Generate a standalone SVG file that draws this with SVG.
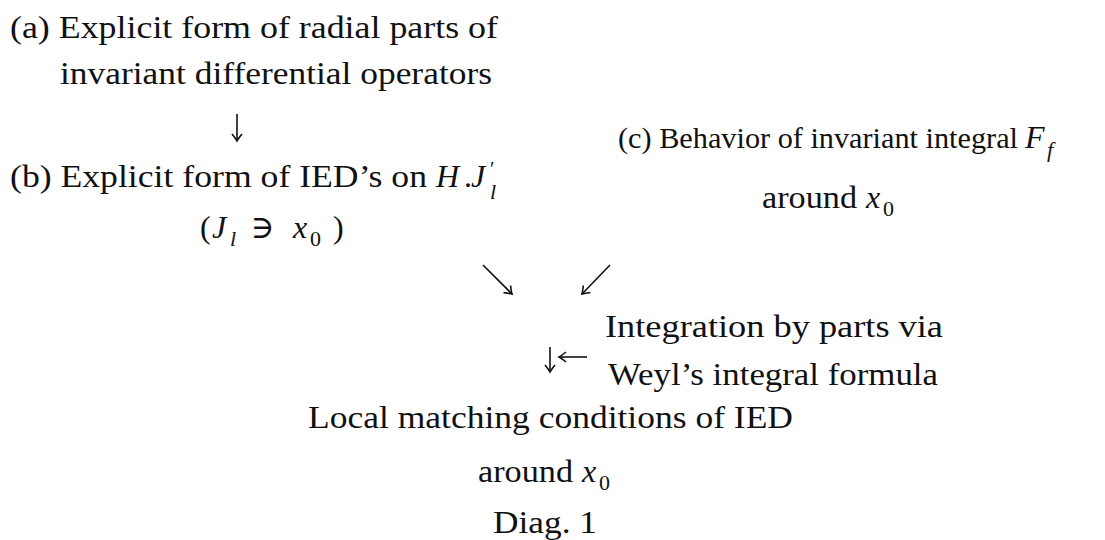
<svg xmlns="http://www.w3.org/2000/svg" width="1105" height="540" viewBox="0 0 1105 540">
<defs>
<style>
text{font-family:"Liberation Serif","DejaVu Serif",serif;font-size:32px;fill:#111}
.m{font-style:italic}
.s{font-size:22px}
.p{font-size:20px}
.n{font-size:30px}
.c{stroke:#111;stroke-width:1.6;fill:none}
</style>
<marker id="ah" markerWidth="12" markerHeight="12" refX="0" refY="0" viewBox="-8 -6 10 12" orient="auto" markerUnits="userSpaceOnUse">
<path d="M-7,-5 Q-2,-1 0,0 Q-2,1 -7,5" fill="none" stroke="#111" stroke-width="1.6"/>
</marker>
</defs>
<rect width="1105" height="540" fill="#fff"/>
<g id="node-a">
<text x="10" y="38" textLength="488" lengthAdjust="spacingAndGlyphs">(a) Explicit form of radial parts of</text>
<text x="60" y="84" textLength="432" lengthAdjust="spacingAndGlyphs">invariant differential operators</text>
</g>
<g id="node-b">
<text x="10" y="187" textLength="417" lengthAdjust="spacingAndGlyphs">(b) Explicit form of IED’s on</text>
<text class="m" x="436" y="187">H</text>
<text x="464" y="187">.</text>
<text class="m" x="471" y="187">J</text>
<text class="p" x="490" y="176">′</text>
<text class="m s" x="490" y="199">l</text>
<text x="200" y="238">(</text>
<text class="m" x="212" y="238">J</text>
<text class="m s" x="230" y="246">l</text>
<text x="251" y="238">∋</text>
<text class="m" x="293" y="238">x</text>
<text class="s" x="310" y="246">0</text>
<text x="333" y="238">)</text>
</g>
<g id="node-c">
<text class="n" x="618" y="148" textLength="400" lengthAdjust="spacingAndGlyphs">(c) Behavior of invariant integral</text>
<text class="m" x="1025" y="148">F</text>
<text class="m s" x="1047" y="157">f</text>
<text x="762" y="208" textLength="95" lengthAdjust="spacingAndGlyphs">around</text>
<text class="m" x="866" y="208">x</text>
<text class="s" x="883" y="216">0</text>
</g>
<g id="node-int">
<text x="605" y="337" textLength="338" lengthAdjust="spacingAndGlyphs">Integration by parts via</text>
<text x="608" y="385" textLength="330" lengthAdjust="spacingAndGlyphs">Weyl’s integral formula</text>
</g>
<g id="node-local">
<text x="308" y="428" textLength="485" lengthAdjust="spacingAndGlyphs">Local matching conditions of IED</text>
<text x="478" y="482" textLength="95" lengthAdjust="spacingAndGlyphs">around</text>
<text class="m" x="582" y="482">x</text>
<text class="s" x="599" y="490">0</text>
</g>
<g id="caption">
<text x="493" y="533" textLength="104" lengthAdjust="spacingAndGlyphs">Diag. 1</text>
</g>
<g id="connectors">
<line class="c" x1="237" y1="114" x2="237" y2="141" marker-end="url(#ah)"/>
<line class="c" x1="483" y1="265" x2="512" y2="294" marker-end="url(#ah)"/>
<line class="c" x1="610" y1="265" x2="582" y2="294" marker-end="url(#ah)"/>
<line class="c" x1="550" y1="347" x2="550" y2="372" marker-end="url(#ah)"/>
<line class="c" x1="587" y1="357" x2="559" y2="357" marker-end="url(#ah)"/>
</g>
</svg>
